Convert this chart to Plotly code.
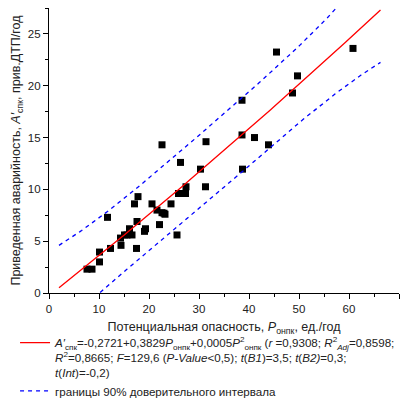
import numpy as np
import plotly.graph_objects as go

# Observed data: potential hazard P (units/year) vs reduced accident rate A' (acc./year)
p_onpk = [7.6, 8.6, 10.1, 10.1, 11.7, 12.3, 14.3, 14.4, 15.1, 15.6, 16.1, 16.6,
          17.1, 17.5, 17.6, 17.8, 19.1, 19.3, 20.6, 21.6, 22.1, 22.6, 23.0, 23.2,
          22.6, 24.4, 25.6, 25.9, 26.3, 27.3, 27.4, 30.3, 31.3, 31.4, 38.6, 38.6,
          38.7, 41.1, 43.9, 45.5, 48.7, 49.7, 60.8]
a_spk = [2.3, 2.3, 3.0, 3.95, 7.3, 4.3, 5.3, 4.6, 5.6, 5.6, 6.2, 5.6,
         8.6, 4.3, 6.9, 9.3, 5.95, 6.2, 8.6, 8.0, 6.6, 7.75, 7.7, 7.6,
         14.3, 8.6, 5.6, 9.6, 12.6, 9.6, 10.25, 11.95, 10.25, 14.6, 18.6, 15.25,
         11.95, 15.0, 14.3, 23.25, 19.3, 20.95, 23.6]

# Regression coefficients (intercept, linear, quadratic)
coef = [-0.2721, 0.3829, 0.0005]
t_90 = 1.686          # Student t, two-sided 90 %, df = n - 3
x_start, x_end = 2.0, 66.3

x_tick_vals = [0, 10, 20, 30, 40, 50, 60, 70]
y_tick_vals = [0, 5, 10, 15, 20, 25]

# Fitted curve
xs = np.linspace(x_start, x_end, 200)
fit = coef[0] + coef[1] * xs + coef[2] * xs ** 2

# Prediction band from the residuals of the quadratic model
xp = np.asarray(p_onpk)
yp = np.asarray(a_spk)
X = np.column_stack([np.ones_like(xp), xp, xp ** 2])
resid = yp - X @ np.asarray(coef)
s = np.sqrt(np.sum(resid ** 2) / (len(xp) - 3))
XtX_inv = np.linalg.inv(X.T @ X)
X0 = np.column_stack([np.ones_like(xs), xs, xs ** 2])
lev = np.einsum("ij,jk,ik->i", X0, XtX_inv, X0)
half = t_90 * s * np.sqrt(1 + lev)
upper = fit + half
lower = fit - half

fit_name = ("<i>A′</i><sub>спк</sub>=-0,2721+0,3829<i>P</i><sub>онпк</sub>+0,0005<i>P</i><sup>2</sup><sub>онпк</sub> "
            "(<i>r</i> =0,9308; <i>R</i><sup>2</sup><sub><i>Adj</i></sub>=0,8598;<br>"
            "<i>R</i><sup>2</sup>=0,8665; <i>F</i>=129,6 (<i>P-Value</i>&lt;0,5); <i>t</i>(<i>B1</i>)=3,5; <i>t</i>(<i>B2)</i>=0,3;<br>"
            "<i>t</i>(<i>Int</i>)=-0,2)")
band_name = "границы 90% доверительного интервала"

fig = go.Figure()
fig.add_trace(go.Scatter(x=p_onpk, y=a_spk, mode="markers",
                         marker=dict(symbol="square", size=7, color="black"),
                         showlegend=False, cliponaxis=False))
fig.add_trace(go.Scatter(x=xs, y=fit, mode="lines", name=fit_name,
                         line=dict(color="#ff0000", width=1.3)))
fig.add_trace(go.Scatter(x=xs, y=upper, mode="lines", name=band_name, legendgroup="band",
                         line=dict(color="#0000ff", width=1.3, dash="4px,4px")))
fig.add_trace(go.Scatter(x=xs, y=lower, mode="lines", name=band_name, legendgroup="band",
                         showlegend=False,
                         line=dict(color="#0000ff", width=1.3, dash="4px,4px")))

axis_common = dict(showline=True, linecolor="black", linewidth=1.3, ticks="outside",
                   ticklen=5, tickwidth=1, tickcolor="black", showgrid=False, zeroline=False,
                   tickfont=dict(size=11.5, color="#222"), mirror=False)

fig.update_xaxes(range=[0, 70], tickvals=x_tick_vals,
                 minor=dict(ticks="outside", ticklen=3, dtick=5, tickcolor="black"),
                 title=dict(text="Потенциальная опасность, <i>P</i><sub>онпк</sub>, ед./год",
                            font=dict(size=12.5, color="#222"), standoff=8),
                 **axis_common)
fig.update_yaxes(range=[0, 27.5], tickvals=y_tick_vals,
                 minor=dict(ticks="outside", ticklen=3, dtick=2.5, tickcolor="black"),
                 title=dict(text="Приведенная аварийность, <i>A′</i><sub>спк</sub>, прив.ДТП/год",
                            font=dict(size=12.5, color="#222"), standoff=4),
                 **axis_common)

fig.update_layout(
    width=404, height=405,
    margin=dict(l=49, r=5, t=8, b=112, autoexpand=False),
    paper_bgcolor="white", plot_bgcolor="white",
    font=dict(family="Liberation Sans, Arial, sans-serif", color="#222"),
    legend=dict(x=-0.097, y=-0.125, xanchor="left", yanchor="top", valign="top",
                font=dict(size=11.6, color="#222"), bgcolor="rgba(0,0,0,0)",
                tracegroupgap=0, itemwidth=30),
)

fig.write_html("out.html")
